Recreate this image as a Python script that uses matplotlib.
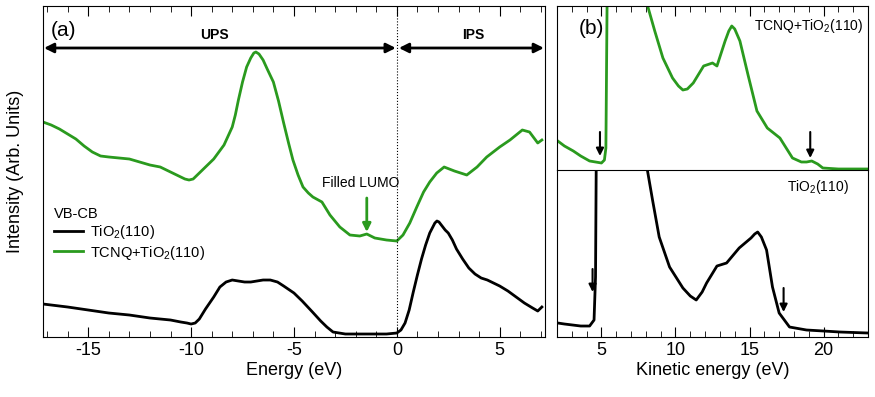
import numpy as np
import matplotlib
matplotlib.use("Agg")
import matplotlib.pyplot as plt
from matplotlib.ticker import MultipleLocator

plt.rcParams['font.family'] = ['Liberation Sans', 'DejaVu Sans']
plt.rcParams['mathtext.default'] = 'regular'
plt.rcParams['axes.unicode_minus'] = False

GREEN = '#2a9a1e'

# panel (a): VB-CB spectra, energy (eV) vs intensity (arb.)
e_tio2 = [-17.2, -16, -15, -14, -13, -12, -11, -10.5, -10.2, -10, -9.8, -9.6, -9.3,
          -8.9, -8.6, -8.3, -8.0, -7.7, -7.4, -7.1, -6.8, -6.5, -6.15, -5.8, -5.5,
          -5.0, -4.6, -4.1, -3.7, -3.4, -3.1, -2.8, -2.5, -2, -1.5, -1, -0.5, 0,
          0.2, 0.4, 0.6, 0.8, 1.0, 1.2, 1.4, 1.6, 1.75, 1.85, 1.95, 2.05, 2.2,
          2.35, 2.5, 2.7, 2.9, 3.2, 3.5, 3.8, 4.1, 4.4, 4.6, 5.0, 5.4, 5.8, 6.2,
          6.6, 6.85, 7.05]
i_tio2 = [33, 30, 27, 24, 22, 19, 17, 15, 14, 13, 14, 18, 28,
          40, 50, 55, 57, 56, 55, 55, 56, 57, 57, 55, 51,
          44, 36, 25, 16, 10, 5, 4, 3, 3, 3, 3, 3, 4,
          7, 14, 27, 45, 62, 78, 92, 104, 110, 114, 116, 115, 111,
          107, 104, 97, 88, 78, 69, 63, 59, 57, 55, 51, 46, 40, 34,
          29, 26, 30]

e_tcnq = [-17.2, -16.8, -16.4, -16, -15.6, -15.2, -14.8, -14.4, -14.0, -13.5, -13.0,
          -12.5, -12.0, -11.5, -11.0, -10.6, -10.3, -10.1, -9.9, -9.6, -9.2, -8.9,
          -8.4, -8.0, -7.85, -7.7, -7.5, -7.3, -7.1, -6.95, -6.85, -6.7, -6.5,
          -6.3, -6.0, -5.75, -5.5, -5.25, -5.05, -4.8, -4.56, -4.3, -4.08, -3.64,
          -3.25, -2.77, -2.28, -1.8, -1.46, -1.07, -0.5, 0, 0.3, 0.63, 0.97, 1.3,
          1.6, 1.94, 2.3, 2.8, 3.4, 3.9, 4.37, 5.0, 5.5, 6.1, 6.45, 6.85, 7.05]
i_tcnq = [215, 212, 208, 203, 198, 191, 185, 181, 180, 179, 178,
          175, 172, 170, 165, 161, 158, 157, 158, 164, 172, 178,
          192, 210, 222, 237, 255, 270, 279, 284, 285, 283, 277,
          268, 255, 236, 214, 193, 177, 162, 150, 144, 140, 135,
          122, 110, 102, 101, 103, 99, 97, 96, 102, 114, 130, 145,
          155, 164, 170, 166, 162, 170, 180, 190, 197, 207, 205, 194, 197]

# panel (b): secondary-electron spectra, kinetic energy (eV)
ke_tcnq = [2.05, 2.5, 3.1, 3.6, 4.2, 4.6, 5.0, 5.2, 5.3, 5.4, 5.5, 6.5, 7.5, 8.1,
           8.6, 9.15, 9.8, 10.2, 10.5, 10.8, 11.2, 11.9, 12.5, 12.8, 13.35, 13.6,
           13.8, 14.0, 14.35, 14.9, 15.5, 16.2, 17.05, 17.9, 18.5, 18.85, 19.2,
           19.6, 19.95, 21, 22, 23]
i_b_tcnq = [27, 22, 17, 12, 7, 6, 5, 8, 20, 200, 400, 600, 600, 163,
            137, 110, 90, 82, 78, 79, 85, 102, 105, 102, 127, 137,
            142, 139, 127, 93, 57, 40, 30, 10, 6, 6, 7,
            4, 0, -1, -1, -1]

ke_tio2 = [2.05, 2.5, 3.05, 3.6, 4.2, 4.5, 4.6, 4.7, 5.5, 7.0, 8.1, 8.45, 8.9, 9.6,
           10.5, 11.0, 11.4, 11.8, 12.1, 12.8, 13.45, 14.3, 15.1, 15.35, 15.55,
           15.8, 16.15, 16.55, 17.0, 17.7, 18.85, 20, 21.1, 23]
i_b_tio2 = [14, 13, 12, 11, 11, 17, 60, 300, 600, 600, 167, 137, 100, 70,
            49, 41, 37, 45, 54, 71, 74, 89, 99, 103, 105,
            100, 87, 50, 24, 10, 7, 6, 5, 4]

fig = plt.figure(figsize=(8.75, 3.97), dpi=100)
ax_a = fig.add_axes([0.0491, 0.1511, 0.5737, 0.8338])
ax_bt = fig.add_axes([0.6366, 0.5718, 0.3554, 0.4131])
ax_bb = fig.add_axes([0.6366, 0.1511, 0.3554, 0.4207])

# ---- panel (a)
ax_a.plot(e_tio2, i_tio2, color='black', lw=2, label='TiO$_2$(110)')
ax_a.plot(e_tcnq, i_tcnq, color=GREEN, lw=2, label='TCNQ+TiO$_2$(110)')
ax_a.axvline(0, color='black', lw=0.8, ls=':')
ax_a.set_xlim(-17.2, 7.2)
ax_a.set_ylim(0, 331)
ax_a.set_yticks([])
ax_a.xaxis.set_major_locator(MultipleLocator(5))
ax_a.xaxis.set_minor_locator(MultipleLocator(1))
ax_a.tick_params(axis='x', which='both', direction='in', top=True, labelsize=13)
ax_a.tick_params(axis='x', which='major', length=7)
ax_a.tick_params(axis='x', which='minor', length=4)
ax_a.set_xlabel('Energy (eV)', fontsize=13, labelpad=2)
ax_a.set_ylabel('Intensity (Arb. Units)', fontsize=13, labelpad=14)

arrow_kw = dict(arrowstyle='<|-|>', color='black', lw=2, mutation_scale=14,
                shrinkA=0, shrinkB=0)
ax_a.annotate('', xy=(-17.15, 289), xytext=(-0.05, 289), arrowprops=arrow_kw)
ax_a.annotate('', xy=(0.1, 289), xytext=(7.15, 289), arrowprops=arrow_kw)
ax_a.text(-8.85, 302, 'UPS', fontsize=10, fontweight='bold', ha='center', va='center')
ax_a.text(3.7, 302, 'IPS', fontsize=10, fontweight='bold', ha='center', va='center')
ax_a.text(-16.8, 306, '(a)', fontsize=15, ha='left', va='center')

ax_a.text(-1.75, 154, 'Filled LUMO', fontsize=10, ha='center', va='center')
ax_a.annotate('', xy=(-1.46, 105), xytext=(-1.46, 139),
              arrowprops=dict(arrowstyle='-|>', color=GREEN, lw=2,
                              mutation_scale=12, shrinkA=0, shrinkB=0))

leg = ax_a.legend(title='VB-CB', loc='upper left', bbox_to_anchor=(0.01, 0.41),
                  frameon=False, fontsize=10.5, title_fontsize=10.5,
                  handlelength=2.0, handletextpad=0.5, labelspacing=0.15,
                  borderaxespad=0, alignment='left')

# ---- panel (b)
ax_bt.plot(ke_tcnq, i_b_tcnq, color=GREEN, lw=2)
ax_bt.set_xlim(2, 23)
ax_bt.set_ylim(-2, 162)
ax_bb.plot(ke_tio2, i_b_tio2, color='black', lw=2)
ax_bb.set_xlim(2, 23)
ax_bb.set_ylim(0, 167)

for ax in (ax_bt, ax_bb):
    ax.set_yticks([])
    ax.xaxis.set_major_locator(MultipleLocator(5))
    ax.xaxis.set_minor_locator(MultipleLocator(1))
    ax.tick_params(axis='x', which='major', length=7, direction='in')
    ax.tick_params(axis='x', which='minor', length=4, direction='in')

ax_bt.tick_params(axis='x', which='both', top=True, bottom=False,
                  labelbottom=False)
ax_bt.spines['bottom'].set_visible(False)
ax_bb.tick_params(axis='x', which='both', labelsize=13)
ax_bb.set_xlabel('Kinetic energy (eV)', fontsize=13, labelpad=2)

ax_bt.text(0.07, 0.86, '(b)', transform=ax_bt.transAxes, fontsize=15, va='center')
ax_bt.text(0.985, 0.88, 'TCNQ+TiO$_2$(110)', transform=ax_bt.transAxes,
           fontsize=10, ha='right', va='center')
ax_bb.text(0.94, 0.9, 'TiO$_2$(110)', transform=ax_bb.transAxes,
           fontsize=10, ha='right', va='center')

down = dict(arrowstyle='-|>', color='black', lw=1.5, mutation_scale=11,
            shrinkA=0, shrinkB=0)
ax_bt.annotate('', xy=(4.9, 12), xytext=(4.9, 36), arrowprops=down)
ax_bt.annotate('', xy=(19.1, 10), xytext=(19.1, 36), arrowprops=down)
ax_bb.annotate('', xy=(4.4, 45), xytext=(4.4, 68), arrowprops=down)
ax_bb.annotate('', xy=(17.3, 25), xytext=(17.3, 49), arrowprops=down)

fig.savefig('out.png', dpi=100)
